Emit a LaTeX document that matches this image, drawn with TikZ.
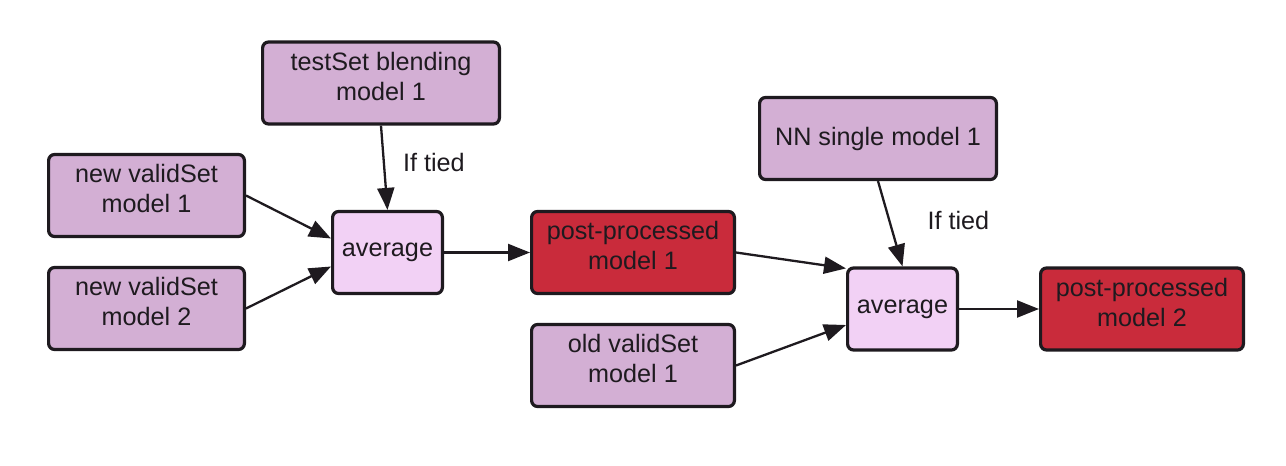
\documentclass[tikz,border=0pt]{standalone}
\usepackage{fontspec}
\setmainfont{Liberation Sans}
\usetikzlibrary{arrows.meta}
\usetikzlibrary{positioning}

\definecolor{mauve}{HTML}{D3AFD4}
\definecolor{pale}{HTML}{F2D1F5}
\definecolor{crimson}{HTML}{C92B3B}
\definecolor{ink}{HTML}{1E1A1F}
\newcommand{\lowstrut}{\rule[-7pt]{0pt}{7pt}}

\tikzset{
  box/.style={draw=ink, line width=1.6pt, rounded corners=3pt, align=center,
    text=ink, inner sep=0pt, minimum height=41pt,
    font=\fontsize{12.6}{15}\selectfont},
  modelbox/.style={box, fill=mauve, minimum width=97.9pt},
  widebox/.style={box, fill=mauve, minimum width=118.4pt},
  avgbox/.style={box, fill=pale, minimum width=54.9pt},
  resultbox/.style={box, fill=crimson, minimum width=101.4pt},
  link/.style={draw=ink, line width=1.15pt, ->},
  tied/.style={text=ink, inner sep=0pt, font=\fontsize{12.6}{15}\selectfont},
}

\begin{document}
\begin{tikzpicture}[x=0.5pt, y=-0.5pt, >={Triangle[length=11pt,width=8.5pt]}]
  \useasboundingbox (0, 0) rectangle (1286, 466);

  % first stage
  \node[widebox] (blend) at (381, 83) {testSet blending\\model 1\lowstrut};
  \node[modelbox] (new1) at (146.5, 195.5) {new validSet\\model 1\lowstrut};
  \node[modelbox] (new2) at (146.5, 308.5) {new validSet\\model 2\lowstrut};
  \node[avgbox] (avg1) at (387.5, 252.5) {average};
  \node[resultbox] (post1) at (633, 252.5) {post-processed\\model 1\lowstrut};

  % second stage
  \node[widebox] (nn) at (878, 138.5) {NN single model 1};
  \node[modelbox, minimum width=101.4pt] (old1) at (633, 365.5) {old validSet\\model 1\lowstrut};
  \node[avgbox] (avg2) at (902.5, 309) {average};
  \node[resultbox] (post2) at (1142, 309) {post-processed\\model 2\lowstrut};

  \draw[link] (blend.south) -- node[tied, pos=0.44, right=9pt] (tied1) {If tied} (avg1.north);
  \draw[link] (new1.east) -- ([yshift=7pt]avg1.west);
  \draw[link] (new2.east) -- ([yshift=-7pt]avg1.west);
  \draw[link] (avg1.east) -- (post1.west);

  \draw[link] (nn.south) -- node[tied, pos=0.465, right=18.5pt] (tied2) {If tied} (avg2.north);
  \draw[link] (post1.east) -- ([yshift=-1pt]avg2.north west);
  \draw[link] (old1.east) -- ([yshift=-8pt]avg2.west);
  \draw[link] (avg2.east) -- (post2.west);
\end{tikzpicture}
\end{document}
